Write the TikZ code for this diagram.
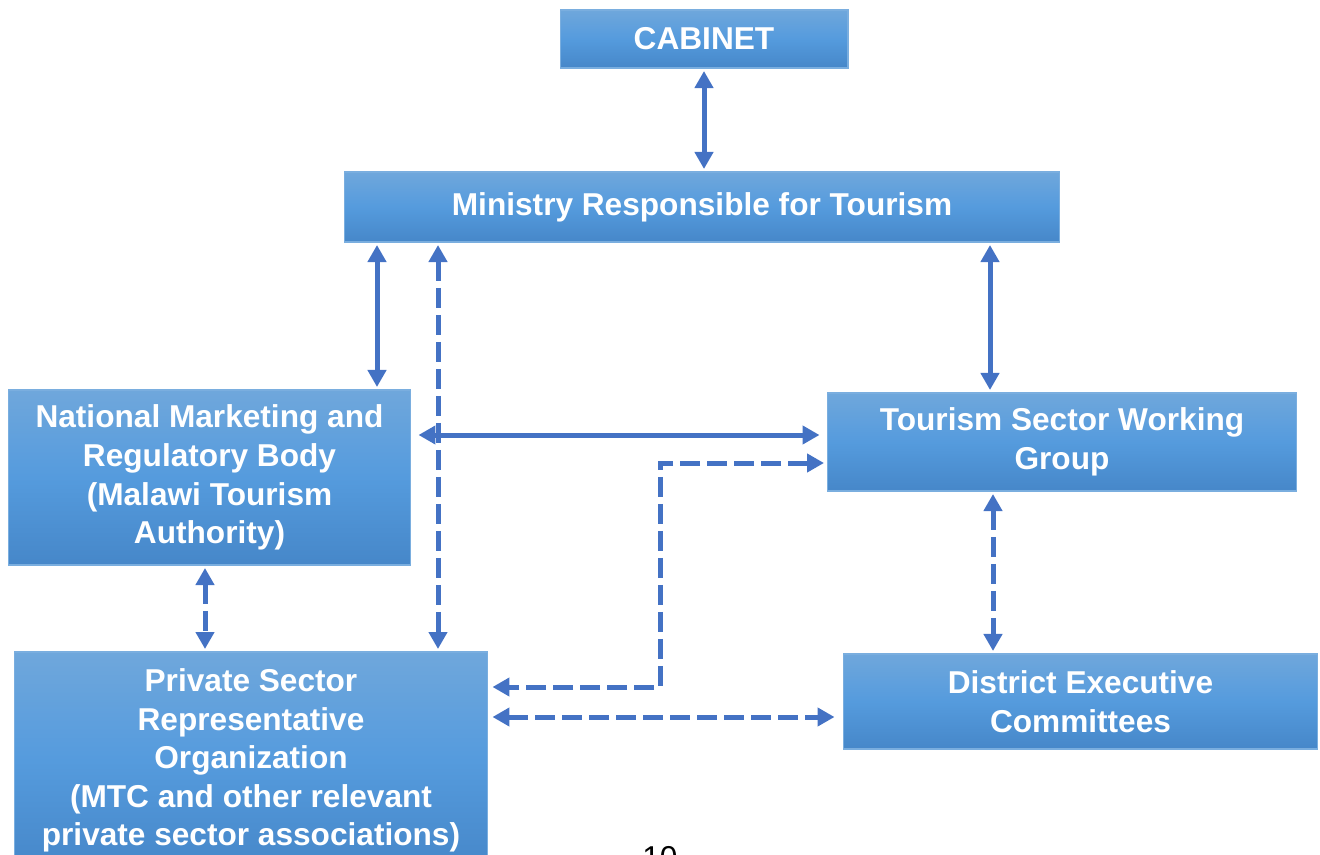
\documentclass[tikz,border=0pt]{standalone}
\usepackage{fontspec}
\setmainfont{Liberation Sans}
\usetikzlibrary{arrows.meta}
\definecolor{OrgBlue}{HTML}{4472C4}
\definecolor{OrgTop}{HTML}{6FA7DC}
\definecolor{OrgMid}{HTML}{559BDD}
\definecolor{OrgBottom}{HTML}{4687C9}
\definecolor{OrgEdge}{HTML}{7AAEDF}

\begin{document}
\begin{tikzpicture}[
  x=0.02cm,
  y=-0.02cm,
  every node/.style={font=\bfseries\fontsize{18}{22}\selectfont, text=white},
  unit/.style={draw=OrgEdge, line width=0.6pt, top color=OrgTop, bottom color=OrgBottom,
    middle color=OrgMid, align=center, inner sep=0pt},
  link/.style={OrgBlue, line width=0.1cm,
    {Triangle[width=0.36cm,length=0.34cm]}-{Triangle[width=0.36cm,length=0.34cm]},
    shorten <=0.05cm, shorten >=0.05cm},
  dashlink/.style={link, dash pattern=on 0.4cm off 0.14cm}
]
\useasboundingbox (0,0) rectangle (1320,855);

% boxes
\node[unit, minimum width=5.76cm, minimum height=1.16cm] (cab) at (704,39) {CABINET};
\node[unit, minimum width=14.32cm, minimum height=1.4cm] (min) at (702,207)
  {Ministry Responsible for Tourism};
\node[unit, minimum width=8.06cm, minimum height=3.5cm] (nmb) at (209.5,477.5)
  {National Marketing and\\Regulatory Body\\(Malawi Tourism\\Authority)};
\node[unit, minimum width=9.4cm, minimum height=1.96cm] (swg) at (1062,442)
  {Tourism Sector Working\\Group};
\node[unit, minimum width=9.48cm, minimum height=4.34cm] (pso) at (251,760.5)
  {Private Sector\\Representative\\Organization\\(MTC and other relevant\\private sector associations)};
\node[unit, minimum width=9.5cm, minimum height=1.9cm] (dec) at (1080.5,701.5)
  {District Executive\\Committees};

% solid links
\draw[link] (cab.south) -- (cab.south |- min.north);
\draw[link] (377,0 |- min.south) -- (377,0 |- nmb.north);
\draw[link] (990,0 |- min.south) -- (990,0 |- swg.north);
\draw[link, shorten <=0.14cm, shorten >=0.14cm] (nmb.east |- 0,435) -- (swg.west |- 0,435);

% dashed links
\draw[dashlink] (438,0 |- min.south) -- (438,0 |- pso.north);
\draw[dashlink] (205,0 |- nmb.south) -- (205,0 |- pso.north);
\draw[dashlink] (993,0 |- swg.south) -- (993,0 |- dec.north);
\coordinate (bend) at (660,687);
\draw[dashlink, shorten >=0.08cm] (swg.west |- 0,463) -| (bend) -- (pso.east |- bend);
\draw[dashlink, shorten <=0.08cm, shorten >=0.16cm] (pso.east |- 0,717) -- (dec.west |- 0,717);

\node[anchor=base, text=black, font=\fontsize{18}{22}\selectfont] (pg) at (660,868) {10};
\end{tikzpicture}
\end{document}
